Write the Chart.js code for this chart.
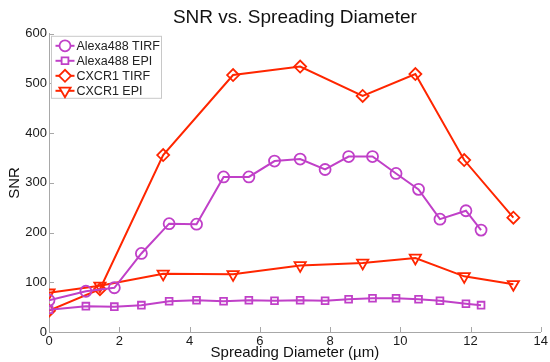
<!DOCTYPE html>
<html>
<head>
<meta charset="utf-8">
<script src="https://cdn.jsdelivr.net/npm/chart.js@4.4.0/dist/chart.umd.min.js"></script>
<style>
  html, body { margin: 0; padding: 0; background: #fff; }
  #wrap { width: 550px; height: 362px; }
</style>
</head>
<body>
<div id="wrap"><canvas id="snrChart"></canvas></div>
<script>
// data
const alexaX = [0, 1.05, 1.86, 2.63, 3.42, 4.2, 4.97, 5.69, 6.42, 7.15, 7.86, 8.53, 9.21, 9.88, 10.52, 11.13, 11.87, 12.3];
const alexaTirf = [64, 82, 89, 158, 218, 217, 312, 312, 344, 348, 327, 353, 353, 319, 287, 227, 244, 205];
const alexaEpi = [45, 52, 51, 54, 62, 64, 62, 64, 63, 64, 63, 66, 68, 68, 66, 63, 57, 54];
const cxcrX = [0, 1.45, 3.25, 5.24, 7.15, 8.93, 10.43, 11.82, 13.22];
const cxcrTirf = [43, 86, 356, 517, 534, 475, 519, 346, 230];
const cxcrEpi = [79, 93, 117, 116, 134, 139, 149, 112, 96];
const seriesNames = ['Alexa488 TIRF', 'Alexa488 EPI', 'CXCR1 TIRF', 'CXCR1 EPI'];
const yTicks = [0, 100, 200, 300, 400, 500, 600];
const xTicks = [0, 2, 4, 6, 8, 10, 12, 14];

const purple = 'rgb(192, 64, 200)';
const red = 'rgb(255, 38, 0)';
const axisGray = '#a8a8a8';
const font = 'Liberation Sans, Arial, Helvetica, sans-serif';

const pts = (xs, ys) => xs.map((x, i) => ({ x: x, y: ys[i] }));

function series(label, xs, ys, color, style, radius, rotation) {
    return {
        label: label,
        data: pts(xs, ys),
        borderColor: color,
        backgroundColor: 'rgba(0,0,0,0)',
        borderWidth: 2,
        pointStyle: style,
        pointRadius: radius,
        pointHoverRadius: radius,
        pointRotation: rotation || 0,
        pointBorderColor: color,
        pointBackgroundColor: 'rgba(0,0,0,0)',
        pointBorderWidth: 1.8,
        tension: 0,
        fill: false,
    };
}

// inward tick marks (matlab style)
const innerTicks = {
    id: 'innerTicks',
    afterDraw(chart) {
        const ctx = chart.ctx, x = chart.scales.x, y = chart.scales.y;
        ctx.save();
        ctx.strokeStyle = axisGray;
        ctx.lineWidth = 1;
        ctx.beginPath();
        yTicks.forEach(v => {
            const p = Math.round(y.getPixelForValue(v)) + 0.5;
            ctx.moveTo(x.left, p); ctx.lineTo(x.left + 5, p);
        });
        xTicks.forEach(v => {
            const p = Math.round(x.getPixelForValue(v)) + 0.5;
            ctx.moveTo(p, y.bottom); ctx.lineTo(p, y.bottom - 5);
        });
        ctx.stroke();
        ctx.restore();
    }
};

// legend box in the upper left corner of the plot
const boxLegend = {
    id: 'boxLegend',
    afterDraw(chart) {
        const ctx = chart.ctx, area = chart.chartArea;
        const bx = area.left + 2.5, by = area.top + 2.5, bw = 110, bh = 62;
        ctx.save();
        ctx.fillStyle = '#fff';
        ctx.fillRect(bx, by, bw, bh);
        ctx.strokeStyle = '#c8c8c8';
        ctx.lineWidth = 1;
        ctx.strokeRect(bx, by, bw, bh);
        ctx.textBaseline = 'middle';
        chart.data.datasets.forEach((ds, i) => {
            const yy = by + 9.5 + i * 15;
            ctx.strokeStyle = ds.borderColor;
            ctx.lineWidth = 2;
            ctx.beginPath();
            ctx.moveTo(bx + 4, yy); ctx.lineTo(bx + 23, yy);
            ctx.stroke();
            ctx.fillStyle = '#fff';
            ctx.lineWidth = 1.8;
            Chart.helpers.drawPoint(ctx, {
                pointStyle: ds.pointStyle,
                radius: ds.pointRadius,
                rotation: ds.pointRotation,
                borderWidth: 1.8
            }, bx + 13.5, yy);
            ctx.fillStyle = '#222';
            ctx.font = '12.5px ' + font;
            ctx.fillText(ds.label, bx + 25, yy + 1);
        });
        ctx.restore();
    }
};

new Chart(document.getElementById('snrChart'), {
    type: 'line',
    data: {
        datasets: [
            series(seriesNames[0], alexaX, alexaTirf, purple, 'circle', 5.5),
            series(seriesNames[1], alexaX, alexaEpi, purple, 'rect', 4.8),
            series(seriesNames[2], cxcrX, cxcrTirf, red, 'rectRot', 6),
            series(seriesNames[3], cxcrX, cxcrEpi, red, 'triangle', 6.5, 180),
        ]
    },
    options: {
        responsive: true,
        maintainAspectRatio: false,
        animation: false,
        layout: { padding: { left: 0, right: 8, top: 0, bottom: 0 } },
        plugins: {
            legend: { display: false },
            tooltip: { enabled: false },
            title: {
                display: true,
                text: 'SNR vs. Spreading Diameter',
                fullSize: false,
                color: '#111',
                font: { family: font, size: 19, weight: 'normal' },
                padding: { top: 6, bottom: 5 }
            }
        },
        scales: {
            x: {
                type: 'linear',
                min: 0, max: 14,
                afterBuildTicks: s => { s.ticks = xTicks.map(v => ({ value: v })); },
                afterFit: s => { s.height = 30; },
                grid: { display: false, drawTicks: false, tickLength: 0 },
                border: { display: true, color: axisGray, width: 1 },
                ticks: { color: '#1a1a1a', padding: 2, font: { family: font, size: 13 } },
                title: {
                    display: true,
                    text: 'Spreading Diameter (µm)',
                    color: '#111',
                    font: { family: font, size: 15 },
                    padding: { top: 0, bottom: 0 }
                }
            },
            y: {
                min: 0, max: 600,
                afterBuildTicks: s => { s.ticks = yTicks.map(v => ({ value: v })); },
                afterFit: s => { s.width = 49; },
                grid: { display: false, drawTicks: false, tickLength: 0 },
                border: { display: true, color: axisGray, width: 1 },
                ticks: { color: '#1a1a1a', padding: 2, font: { family: font, size: 13 } },
                title: {
                    display: true,
                    text: 'SNR',
                    color: '#111',
                    font: { family: font, size: 15 },
                    padding: { top: 6, bottom: 0 }
                }
            }
        }
    },
    plugins: [innerTicks, boxLegend]
});
</script>
</body>
</html>
